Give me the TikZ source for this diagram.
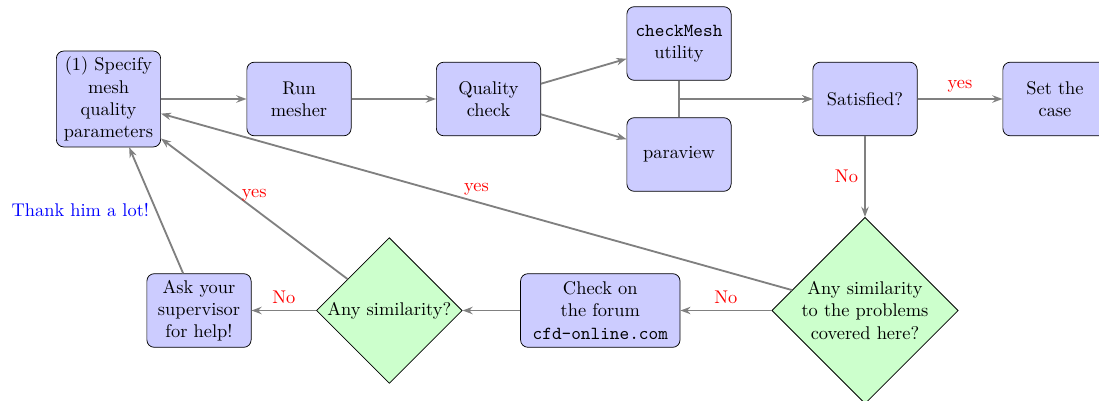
\documentclass[tikz,border=0pt]{standalone}
\usetikzlibrary{shapes.geometric,arrows.meta}
\begin{document}
\begin{tikzpicture}[x=0.5435pt,y=-0.5435pt,
  block/.style={rectangle, draw, fill=blue!20, text width=5em, align=center,
    rounded corners, minimum height=4em},
  decision/.style={diamond, draw, fill=green!20, text width=7em, align=center,
    inner sep=0pt},
  line/.style={draw, line width=1pt, black!50, -{Stealth[length=5.5pt,width=4pt]}},
  lbl/.style={red},
]
\useasboundingbox (0,0) rectangle (1099,401);

% top row
\node[block] (spec) at (108.5,99) {(1) Specify mesh quality parameters};
\node[block] (run)  at (299,99)   {Run mesher};
\node[block] (qual) at (488.5,99) {Quality check};
\node[block] (chk)  at (679,43.5) {\texttt{checkMesh} utility};
\node[block] (para) at (679,154.5) {paraview};
\node[block] (sat)  at (865,99)   {Satisfied?};
\node[block] (set)  at (1055,99)  {Set the case};

% bottom row
\node[decision] (big)   at (865,310.5)   {Any similarity to the problems covered here?};
\node[block, text width=8em] (forum) at (600.3,310.5)
  {Check on\\ the forum\\ \texttt{cfd-online.com}};
\node[decision] (small) at (389.3,310.5) {Any similarity?};
\node[block] (ask)   at (199,310.5)  {Ask your supervisor for help!};

% connectors
\path[line] (spec) -- (run);
\path[line] (run) -- (qual);
\path[line] (qual) -- (chk);
\path[line] (qual) -- (para);
\path[line] (chk) |- (sat);
\path[line] (para) |- (sat);
\path[line] (sat) -- node[lbl, above] {yes} (set);
\path[line] (sat) -- node[lbl, left] {No} (big);
\path[line] (big) -- node[lbl, above] {No} (forum);
\path[line] (big) -- node[lbl, above] {yes} (spec);
\path[line] (forum) -- (small);
\path[line] (small) -- node[lbl, above] {No} (ask);
\path[line] (small) -- node[lbl, above] {yes} (spec);
\path[line] (ask) -- node[blue, left] {Thank him a lot!} (spec);
\end{tikzpicture}
\end{document}
